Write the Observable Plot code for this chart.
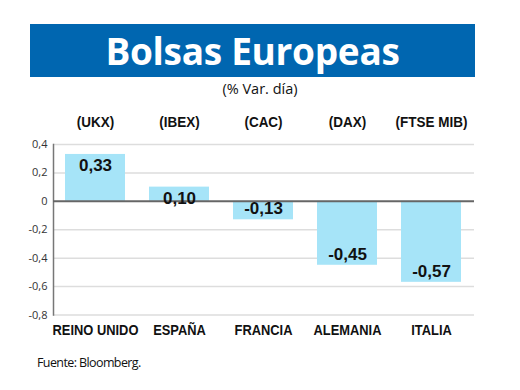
<!DOCTYPE html>
<html>
<head>
<meta charset="utf-8">
<script src="https://cdn.jsdelivr.net/npm/d3@7"></script>
<script src="https://cdn.jsdelivr.net/npm/@observablehq/plot@0.6"></script>
<style>
  body { margin: 0; background: #fff; }
  #wrap { position: relative; width: 520px; height: 390px; overflow: hidden; background: #fff; }
  #title { position: absolute; left: 30px; top: 24px; width: 445px; height: 53px; background: #0066b0; color: #fff;
    font-family: "Open Sans", sans-serif; font-weight: 700; font-size: 37px; line-height: 53px; text-align: center; letter-spacing: -0.3px; }
  #sub { position: absolute; left: 0; width: 520px; top: 79px; text-align: center; font-family: "Open Sans", sans-serif; font-size: 14.5px; color: #111; }
  #src { position: absolute; left: 37px; top: 354px; font-family: "Open Sans", sans-serif; font-size: 12.5px; letter-spacing: -0.6px; color: #111; }
  #chart { position: absolute; left: 0; top: 0; }
</style>
</head>
<body>
<div id="wrap">
  <div id="chart"></div>
  <div id="title">Bolsas Europeas</div>
  <div id="sub">(% Var. día)</div>
  <div id="src">Fuente: Bloomberg.</div>
</div>
<script>
const countries = ["REINO UNIDO", "ESPAÑA", "FRANCIA", "ALEMANIA", "ITALIA"];
const indices = ["(UKX)", "(IBEX)", "(CAC)", "(DAX)", "(FTSE MIB)"];
const values = [0.33, 0.10, -0.13, -0.45, -0.57];
const yTicks = [0.4, 0.2, 0, -0.2, -0.4, -0.6, -0.8];

const data = countries.map((c, i) => ({country: c, index: indices[i], value: values[i]}));
const fmt = v => v === 0 ? "0" : String(Math.round(v * 10) / 10).replace(".", ",");
const fmt2 = v => v.toFixed(2).replace(".", ",");
const valueFont = {fontFamily: "'Liberation Sans', Arial, sans-serif", fontWeight: "bold", fontSize: 17, fill: "#111"};

const chart = Plot.plot({
  width: 520,
  height: 390,
  marginTop: 144,
  marginBottom: 75.5,
  marginLeft: 53,
  marginRight: 46,
  style: {fontFamily: "'Liberation Sans', sans-serif", background: "transparent"},
  x: {domain: countries, paddingInner: 0.285, paddingOuter: 0.137, label: null},
  y: {domain: [-0.8, 0.4], label: null},
  marks: [
    Plot.ruleY(yTicks.filter(d => d !== 0), {stroke: "#dddddd", strokeWidth: 1.5}),
    Plot.frame({anchor: "left", stroke: "#777", strokeWidth: 1.5}),
    Plot.barY(data, {x: "country", y: "value", fill: "#a6e4f8"}),
    Plot.ruleY([0], {stroke: "#666", strokeWidth: 2}),
    Plot.text(data.filter(d => d.value >= 0), {x: "country", y: "value", text: d => fmt2(d.value), dy: 11, ...valueFont}),
    Plot.text(data.filter(d => d.value < 0), {x: "country", y: "value", text: d => fmt2(d.value), dy: -11, ...valueFont}),
    Plot.axisY({ticks: yTicks, tickSize: 0, tickPadding: 6, tickFormat: fmt, fontSize: 11, fill: "#333",
      fontFamily: "'Open Sans', sans-serif", label: null}),
    Plot.axisX({tickSize: 0, tickPadding: 9, fontSize: 15, fontWeight: "bold", fill: "#111", label: null}),
    Plot.text(data, {x: "country", text: "index", frameAnchor: "top", dy: -28, fontSize: 15,
      fontWeight: "bold", fill: "#111", ariaLabel: () => "index"})
  ]
});

document.getElementById("chart").appendChild(chart);
// condensed look: squeeze label glyphs horizontally about their anchor point
function condense(sel, f) {
  d3.select(chart).selectAll(sel).each(function() {
    const t = this.getAttribute("transform");
    if (t) {
      this.setAttribute("transform", t + ` scale(${f},1)`);
    } else {
      const x = +this.getAttribute("x") || 0, y = +this.getAttribute("y") || 0;
      this.setAttribute("transform", `translate(${x},${y}) scale(${f},1) translate(${-x},${-y})`);
    }
  });
}
condense("g[aria-label='x-axis tick label'] text", 0.86);
condense("text[aria-label='index']", 0.9);
</script>
</body>
</html>
